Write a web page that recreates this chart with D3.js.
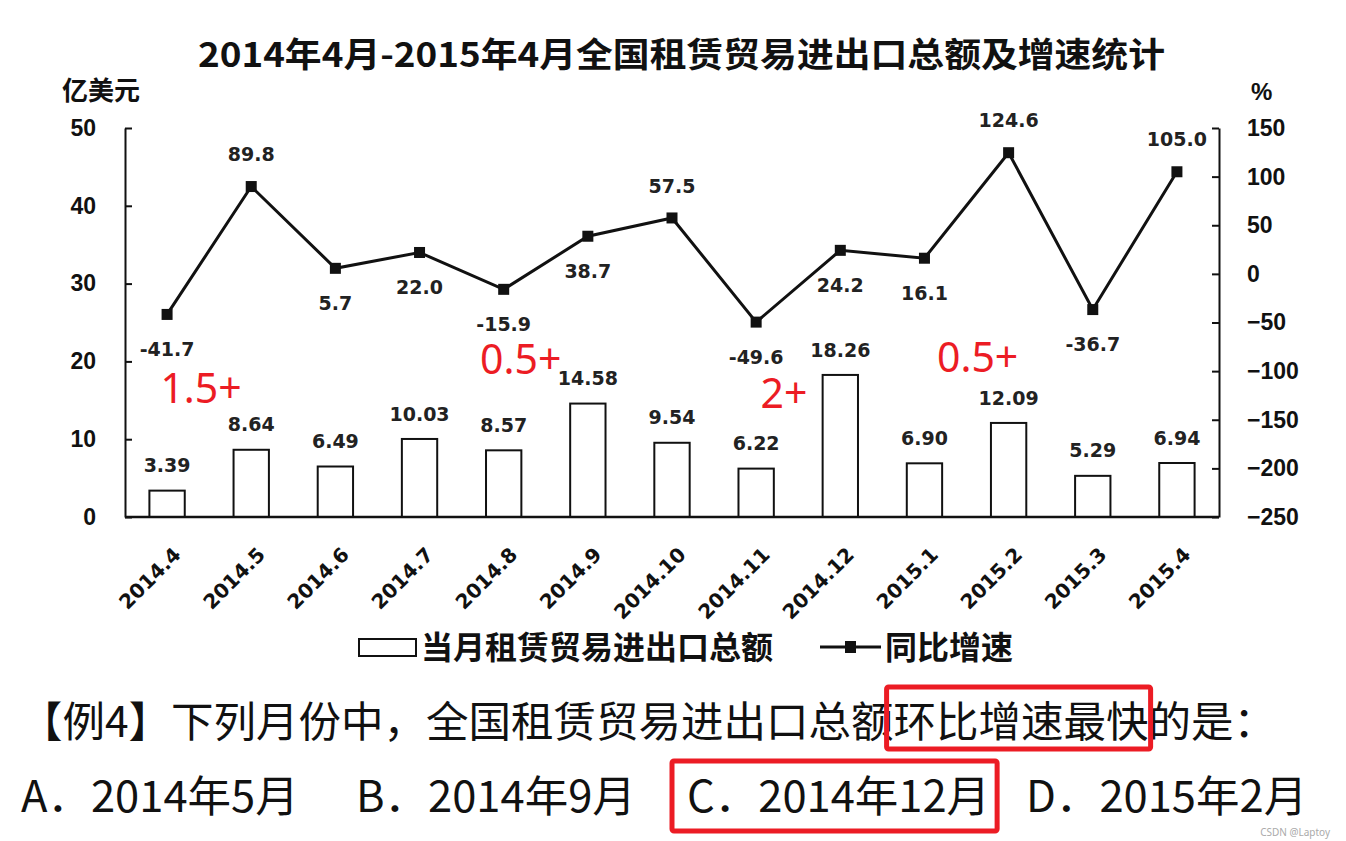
<!DOCTYPE html>
<html>
<head>
<meta charset="utf-8">
<script src="https://cdn.jsdelivr.net/npm/d3@7"></script>
<style>
  html, body { margin: 0; padding: 0; background: #fff; }
  svg { display: block; }
</style>
</head>
<body>
<svg id="chart" width="1346" height="841"></svg>
<script>
// ---------------- data ----------------
const categories = ["2014.4","2014.5","2014.6","2014.7","2014.8","2014.9","2014.10","2014.11","2014.12","2015.1","2015.2","2015.3","2015.4"];
const totals = [3.39, 8.64, 6.49, 10.03, 8.57, 14.58, 9.54, 6.22, 18.26, 6.90, 12.09, 5.29, 6.94];
const totalLabels = ["3.39","8.64","6.49","10.03","8.57","14.58","9.54","6.22","18.26","6.90","12.09","5.29","6.94"];
const growth = [-41.7, 89.8, 5.7, 22.0, -15.9, 38.7, 57.5, -49.6, 24.2, 16.1, 124.6, -36.7, 105.0];
const growthLabels = ["-41.7","89.8","5.7","22.0","-15.9","38.7","57.5","-49.6","24.2","16.1","124.6","-36.7","105.0"];
const growthLabelSide = ["below","above","below","below","below","below","above","below","below","below","above","below","above"];
const leftTicks = [0, 10, 20, 30, 40, 50];
const rightTicks = [-250, -200, -150, -100, -50, 0, 50, 100, 150];
const titleText = "2014年4月-2015年4月全国租赁贸易进出口总额及增速统计";
const leftUnit = "亿美元";
const rightUnit = "%";
const legendNames = ["当月租赁贸易进出口总额", "同比增速"];
// hand annotations (red): text and the month they sit next to
const annotations = [
  {text: "1.5+", cat: "2014.4"},
  {text: "0.5+", cat: "2014.8"},
  {text: "2+",   cat: "2014.11"},
  {text: "0.5+", cat: "2015.2"}
];
const questionParts = ["【例4】下列月份中，全国租赁贸易进出口总额", "环比增速最快", "的是："];
const options = ["A．2014年5月", "B．2014年9月", "C．2014年12月", "D．2015年2月"];
const answerIndex = 2;
const watermark = "CSDN @Laptoy";

// ---------------- layout ----------------
const W = 1346, H = 841;
const plot = {left: 125, right: 1219, top: 128, bottom: 517};
const CJK = "'Noto Sans CJK SC', 'Noto Sans', sans-serif";
const NUM = "'DejaVu Sans', Verdana, sans-serif";
const RED = "#ec1c24";

const svg = d3.select("#chart");
svg.append("rect").attr("width", W).attr("height", H).attr("fill", "#fff");

const x = d3.scaleBand().domain(categories).range([plot.left, plot.right])
  .paddingInner(0.58).paddingOuter(0.29);
const yL = d3.scaleLinear().domain([0, 50]).range([plot.bottom, plot.top]);
const yR = d3.scaleLinear().domain([-250, 150]).range([plot.bottom, plot.top]);

// title
svg.append("text")
  .attr("x", 198).attr("y", 67)
  .attr("textLength", 967).attr("lengthAdjust", "spacingAndGlyphs")
  .attr("font-family", CJK).attr("font-weight", 700).attr("font-size", 34)
  .attr("fill", "#111").text(titleText);

// unit labels
svg.append("text").attr("x", 62).attr("y", 100)
  .attr("font-family", CJK).attr("font-weight", 700).attr("font-size", 26)
  .attr("fill", "#111").text(leftUnit);
svg.append("text").attr("x", 1251).attr("y", 100)
  .attr("font-family", "'Liberation Sans', Arial, sans-serif").attr("font-weight", 700).attr("font-size", 24)
  .attr("fill", "#111").text(rightUnit);

// axes
const axL = svg.append("g").attr("transform", `translate(${plot.left},0)`)
  .call(d3.axisLeft(yL).tickValues(leftTicks).tickSize(-7).tickSizeOuter(0).tickPadding(29).tickFormat(d3.format("d")));
const axR = svg.append("g").attr("transform", `translate(${plot.right},0)`)
  .call(d3.axisRight(yR).tickValues(rightTicks).tickSize(-7).tickSizeOuter(0).tickPadding(28).tickFormat(d3.format("d")));
[axL, axR].forEach(g => {
  g.select(".domain").attr("stroke", "#111").attr("stroke-width", 2);
  g.selectAll(".tick line").attr("stroke", "#111").attr("stroke-width", 2);
  g.selectAll(".tick text")
    .attr("font-family", "'Liberation Sans', Arial, sans-serif")
    .attr("font-weight", 700).attr("font-size", 23).attr("fill", "#111");
});

// bars
svg.append("g").selectAll("rect").data(totals).join("rect")
  .attr("x", (d, i) => x(categories[i]))
  .attr("y", d => yL(d))
  .attr("width", x.bandwidth())
  .attr("height", d => yL(0) - yL(d))
  .attr("fill", "#fff").attr("stroke", "#111").attr("stroke-width", 2);

// bar labels
svg.append("g").selectAll("text").data(totals).join("text")
  .attr("x", (d, i) => x(categories[i]) + x.bandwidth() / 2)
  .attr("y", d => yL(d) - 25)
  .attr("dy", "0.35em")
  .attr("text-anchor", "middle")
  .attr("font-family", NUM).attr("font-weight", 700).attr("font-size", 19)
  .attr("fill", "#222")
  .text((d, i) => totalLabels[i]);

// x baseline
svg.append("line")
  .attr("x1", plot.left).attr("x2", plot.right)
  .attr("y1", yL(0)).attr("y2", yL(0))
  .attr("stroke", "#111").attr("stroke-width", 2.5);

// category labels
svg.append("g").selectAll("text").data(categories).join("text")
  .attr("transform", d => `translate(${x(d) + x.bandwidth() / 2 + 15},${plot.bottom + 39}) rotate(-45)`)
  .attr("text-anchor", "end")
  .attr("font-family", NUM).attr("font-weight", 700).attr("font-size", 20)
  .attr("fill", "#111")
  .text(d => d);

// growth line
const cx = i => x(categories[i]) + x.bandwidth() / 2;
const line = d3.line().x((d, i) => cx(i)).y(d => yR(d));
svg.append("path").datum(growth)
  .attr("d", line).attr("fill", "none").attr("stroke", "#111").attr("stroke-width", 3)
  .attr("stroke-linejoin", "miter");
svg.append("g").selectAll("rect").data(growth).join("rect")
  .attr("x", (d, i) => cx(i) - 5.5).attr("y", d => yR(d) - 5.5)
  .attr("width", 11).attr("height", 11).attr("fill", "#111");

// growth labels
svg.append("g").selectAll("text").data(growth).join("text")
  .attr("x", (d, i) => cx(i))
  .attr("y", (d, i) => yR(d) + (growthLabelSide[i] === "below" ? 35 : -32))
  .attr("dy", "0.35em")
  .attr("text-anchor", "middle")
  .attr("font-family", NUM).attr("font-weight", 700).attr("font-size", 19)
  .attr("fill", "#222")
  .text((d, i) => growthLabels[i]);

// legend
const lg = svg.append("g");
lg.append("rect").attr("x", 359).attr("y", 639).attr("width", 57).attr("height", 17)
  .attr("fill", "#fff").attr("stroke", "#111").attr("stroke-width", 2);
lg.append("text").attr("x", 421).attr("y", 659)
  .attr("font-family", CJK).attr("font-weight", 700).attr("font-size", 32).attr("fill", "#111")
  .text(legendNames[0]);
lg.append("line").attr("x1", 820).attr("x2", 881).attr("y1", 647).attr("y2", 647)
  .attr("stroke", "#111").attr("stroke-width", 3);
lg.append("rect").attr("x", 845).attr("y", 641).attr("width", 11).attr("height", 12).attr("fill", "#111");
lg.append("text").attr("x", 885).attr("y", 659)
  .attr("font-family", CJK).attr("font-weight", 700).attr("font-size", 32).attr("fill", "#111")
  .text(legendNames[1]);

// red annotations
const annoOffset = {"2014.4": [11, 403], "2014.8": [-6, 374], "2014.11": [22, 408], "2015.2": [-54, 372]};
svg.append("g").selectAll("text").data(annotations).join("text")
  .attr("x", d => x(d.cat) + annoOffset[d.cat][0])
  .attr("y", d => annoOffset[d.cat][1])
  .attr("font-family", "'Noto Sans', 'Open Sans', sans-serif").attr("font-size", 41)
  .attr("fill", RED)
  .text(d => d.text);

// question line
const q = svg.append("text").attr("x", 20).attr("y", 737)
  .attr("font-family", CJK).attr("font-size", 42.5).attr("fill", "#111");
questionParts.forEach(p => q.append("tspan").text(p));
const qNode = q.node();
const hlStart = questionParts[0].length;
const hlEnd = hlStart + questionParts[1].length - 1;
const e1 = qNode.getExtentOfChar(hlStart), e2 = qNode.getExtentOfChar(hlEnd);
svg.append("rect")
  .attr("x", e1.x - 7).attr("y", 687)
  .attr("width", e2.x + e2.width - e1.x + 9).attr("height", 62)
  .attr("fill", "none").attr("stroke", RED).attr("stroke-width", 5).attr("rx", 2);

// options line
const optX = [21, 356, 687, 1026];
options.forEach((o, i) => {
  const t = svg.append("text").attr("x", optX[i]).attr("y", 812)
    .attr("font-family", CJK).attr("font-size", 43.5).attr("fill", "#111").text(o);
  if (i === answerIndex) {
    const len = t.node().getComputedTextLength();
    svg.append("rect")
      .attr("x", optX[i] - 15).attr("y", 761)
      .attr("width", len + 22).attr("height", 70)
      .attr("fill", "none").attr("stroke", RED).attr("stroke-width", 5).attr("rx", 2);
  }
});

// watermark
svg.append("text").attr("x", 1330).attr("y", 836).attr("text-anchor", "end")
  .attr("font-family", "'Noto Sans', sans-serif").attr("font-size", 10).attr("fill", "#aaa")
  .text(watermark);
</script>
</body>
</html>
